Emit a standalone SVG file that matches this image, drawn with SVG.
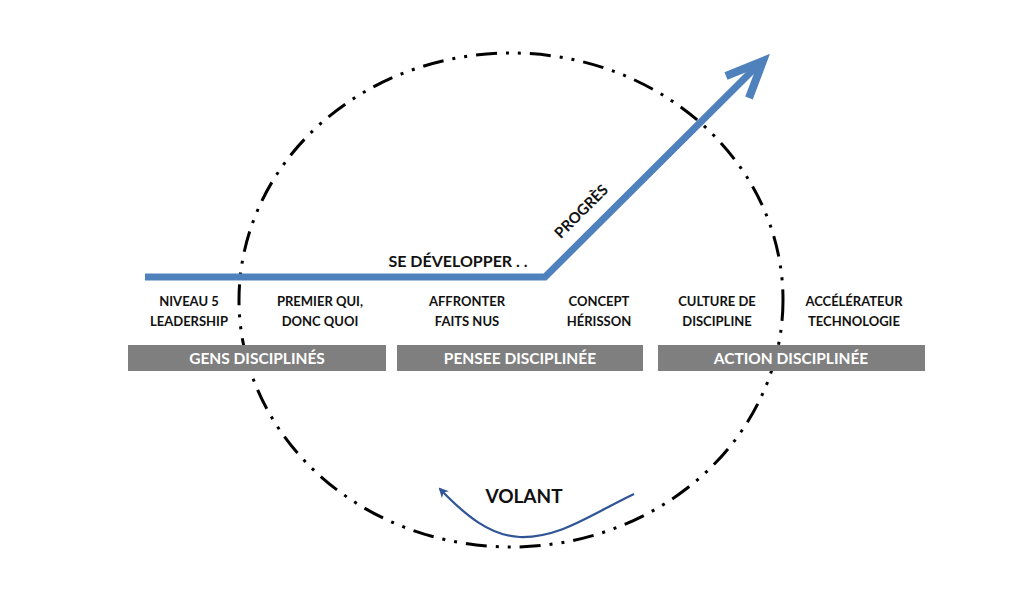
<svg xmlns="http://www.w3.org/2000/svg" width="1024" height="613" viewBox="0 0 1024 613">
<style>
.lbl{font-family:Lato,"Open Sans","Liberation Sans",sans-serif;font-weight:bold;font-size:13px;fill:#111;text-anchor:middle}
.bar{fill:#7f7f7f}
.bt{font-family:Lato,"Open Sans","Liberation Sans",sans-serif;font-weight:bold;font-size:15.5px;fill:#fff;text-anchor:middle}
.big{font-family:Lato,"Open Sans","Liberation Sans",sans-serif;font-weight:bold;fill:#111}
</style>
<defs>
<marker id="ah" markerWidth="10" markerHeight="10" refX="8" refY="5" orient="auto" markerUnits="userSpaceOnUse">
<path d="M0,0 L10,5 L0,10 L3,5 Z" fill="#2f5597"/>
</marker>
</defs>
<rect width="1024" height="613" fill="#fff"/>
<g id="cycle">
<ellipse cx="511" cy="300" rx="272" ry="247" fill="none" stroke="#000" stroke-width="3" stroke-dasharray="21 9 3 9 3 9"/>
</g>
<g id="bars">
<g id="gens"><rect class="bar" x="128" y="345" width="258" height="26"/><text class="bt" x="257" y="364">GENS DISCIPLINÉS</text></g>
<g id="pensee"><rect class="bar" x="397" y="345" width="246" height="26"/><text class="bt" x="520" y="364">PENSEE DISCIPLINÉE</text></g>
<g id="action"><rect class="bar" x="658" y="345" width="267" height="26"/><text class="bt" x="791" y="364">ACTION DISCIPLINÉE</text></g>
</g>
<g id="labels">
<g id="n1"><text class="lbl" x="189" y="306">NIVEAU 5</text><text class="lbl" x="189" y="326">LEADERSHIP</text></g>
<g id="n2"><text class="lbl" x="320" y="306">PREMIER QUI,</text><text class="lbl" x="320" y="326">DONC QUOI</text></g>
<g id="n3"><text class="lbl" x="467" y="306">AFFRONTER</text><text class="lbl" x="467" y="326">FAITS NUS</text></g>
<g id="n4"><text class="lbl" x="599" y="306">CONCEPT</text><text class="lbl" x="599" y="326">HÉRISSON</text></g>
<g id="n5"><text class="lbl" x="717" y="306">CULTURE DE</text><text class="lbl" x="717" y="326">DISCIPLINE</text></g>
<g id="n6"><text class="lbl" x="854" y="306">ACCÉLÉRATEUR</text><text class="lbl" x="854" y="326">TECHNOLOGIE</text></g>
</g>
<g id="connectors">
<polyline points="145,277 545,277 762,61" fill="none" stroke="#4f81bd" stroke-width="7"/>
<polyline points="726,76 763,61 749,98" fill="none" stroke="#4f81bd" stroke-width="8"/>
<path d="M634,494 C590,515 560,538 520,537 C490,536 465,515 440,489" fill="none" stroke="#2f5597" stroke-width="2.2" marker-end="url(#ah)"/>
</g>
<text class="big" x="458" y="267" font-size="16" text-anchor="middle">SE DÉVELOPPER . .</text>
<text class="big" x="585" y="215" font-size="15" text-anchor="middle" transform="rotate(-45 585 215)">PROGRÈS</text>
<text class="big" x="524" y="503" font-size="19" text-anchor="middle">VOLANT</text>
</svg>
